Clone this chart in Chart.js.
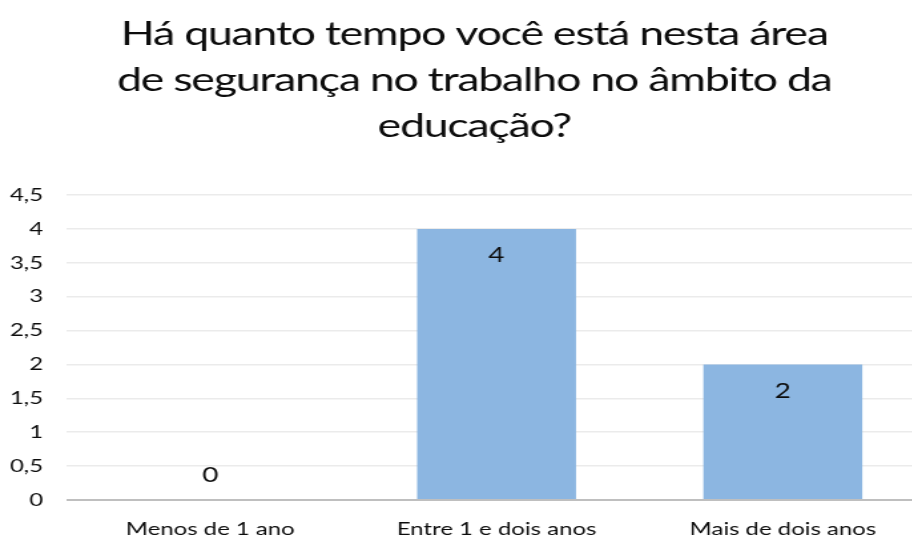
<!DOCTYPE html>
<html><head><meta charset="utf-8">
<script src="https://cdn.jsdelivr.net/npm/chart.js@4.4.0/dist/chart.umd.min.js"></script>
<style>
html,body{margin:0;padding:0;overflow:hidden;background:#fff;width:912px;height:539px}
#c{position:absolute;left:0;top:0;width:926px !important;height:539px !important;display:block}
</style>
</head><body><canvas id="c" width="696" height="539" style="width:926px;height:539px"></canvas>
<script>
const titleLines = ["Há quanto tempo você está nesta área", "de segurança no trabalho no âmbito da", "educação?"];
const categories = ["Menos de 1 ano", "Entre 1 e dois anos", "Mais de dois anos"];
const values = [0, 4, 2];
const yMin = 0, yMax = 4.5, yStep = 0.5;

const FONT = "Lato, 'Open Sans', sans-serif";
const TEXT = "#0d0d0d";

const dataLabels = {
  id: 'dataLabels',
  afterDatasetsDraw(chart) {
    const ctx = chart.ctx;
    const meta = chart.getDatasetMeta(0);
    ctx.save();
    ctx.font = "21px " + FONT;
    ctx.fillStyle = TEXT;
    ctx.textAlign = 'center';
    ctx.textBaseline = 'middle';
    meta.data.forEach((bar, i) => {
      const v = values[i];
      const y = v > 0 ? bar.y + 26.5 : bar.base - 24.5;
      ctx.fillText(String(v).replace('.', ','), bar.x, y);
    });
    ctx.restore();
  }
};

const titleTweak = {
  id: 'titleTweak',
  afterLayout(chart) {
    const t = chart.titleBlock;
    if (!t) return;
    t.left = 17;
    if (!t._spaced) {
      const orig = t.draw;
      t.draw = function () {
        const ctx = this.ctx;
        ctx.save();
        ctx.letterSpacing = '-0.9px';
        orig.apply(this, arguments);
        ctx.restore();
      };
      t._spaced = true;
    }
  }
};

new Chart(document.getElementById('c'), {
  type: 'bar',
  data: {
    labels: categories,
    datasets: [{
      data: values,
      backgroundColor: '#8CB6E1',
      borderWidth: 0,
      categoryPercentage: 1,
      barPercentage: 0.555
    }]
  },
  options: {
    responsive: false,
    animation: false,
    devicePixelRatio: 1,
    layout: { padding: 0 },
    plugins: {
      legend: { display: false },
      tooltip: { enabled: false },
      title: {
        display: true,
        text: titleLines,
        color: TEXT,
        font: { family: FONT, size: 33.5, weight: 'normal', lineHeight: 1.373 },
        padding: { top: 11.7, bottom: 45.3 }
      }
    },
    scales: {
      x: {
        grid: { display: false },
        border: { display: false },
        ticks: { color: TEXT, font: { family: FONT, size: 18 }, padding: 10, maxRotation: 0 },
        afterFit(s) { s.height = 39; }
      },
      y: {
        min: yMin, max: yMax,
        ticks: {
          stepSize: yStep,
          color: TEXT,
          font: { family: FONT, size: 18 },
          padding: 18,
          callback: v => String(v).replace('.', ',')
        },
        grid: {
          drawTicks: false,
          color: c => c.tick && c.tick.value === 0 ? '#BFBFBF' : '#EBEBEB',
          lineWidth: c => c.tick && c.tick.value === 0 ? 2 : 1.5
        },
        border: { display: false },
        afterFit(s) { s.width = 50.4; }
      }
    }
  },
  plugins: [dataLabels, titleTweak]
});
</script>
</body></html>
